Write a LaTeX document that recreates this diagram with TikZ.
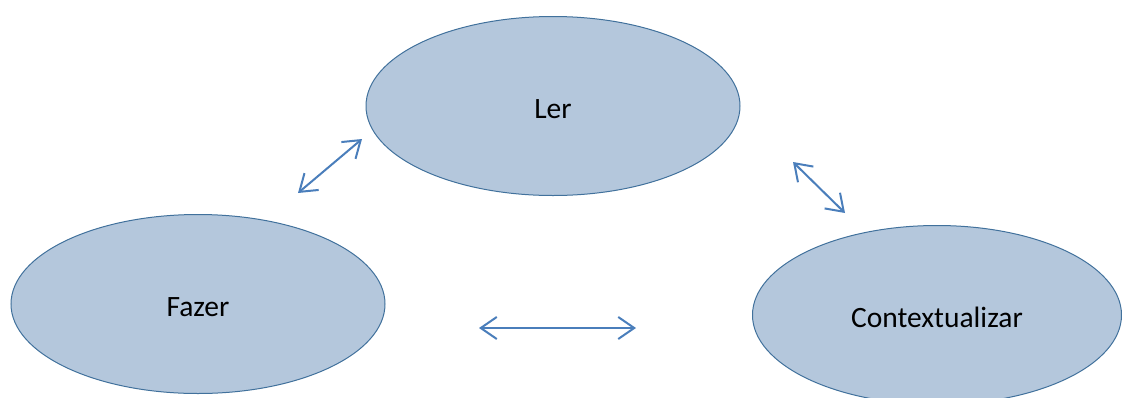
\documentclass[tikz,border=0pt]{standalone}
\usepackage{fontspec}
\setmainfont{Carlito}
\usetikzlibrary{
    positioning,
    shapes.geometric,
    arrows.meta
}
\definecolor{ovalfill}{HTML}{B4C7DC}
\definecolor{ovalline}{HTML}{41719C}
\definecolor{arrowblue}{HTML}{4A7EBB}

\begin{document}
\begin{tikzpicture}[x=1pt,y=-1pt,
  oval/.style={ellipse, draw=ovalline, fill=ovalfill, line width=1pt,
    minimum width=374pt, minimum height=179pt, inner sep=0pt,
    text height=25pt, text depth=0pt,
    font=\fontsize{29.5}{34}\selectfont},
  link/.style={draw=arrowblue, line width=2pt,
    {Straight Barb[length=16pt,width=22pt]}-{Straight Barb[length=16pt,width=22pt]}}]
\useasboundingbox (0,0) rectangle (1122,397);
\node[oval] (ler) at (553,106) {Ler};
\node[oval] (fazer) at (198,304) {Fazer};
\node[oval, minimum width=369pt] (contexto) at (937,315) {Contextualizar};
% free ends of the arrows
\coordinate (a1) at (298,193);
\coordinate (a2) at (362,139);
\coordinate (b1) at (793,162);
\coordinate (b2) at (845,213);
\coordinate (c1) at (479,328);
\coordinate (c2) at (636,328);
\draw[link] (a1) -- (a2);
\draw[link] (b1) -- (b2);
\draw[link] (c1) -- (c2);
\end{tikzpicture}
\end{document}
